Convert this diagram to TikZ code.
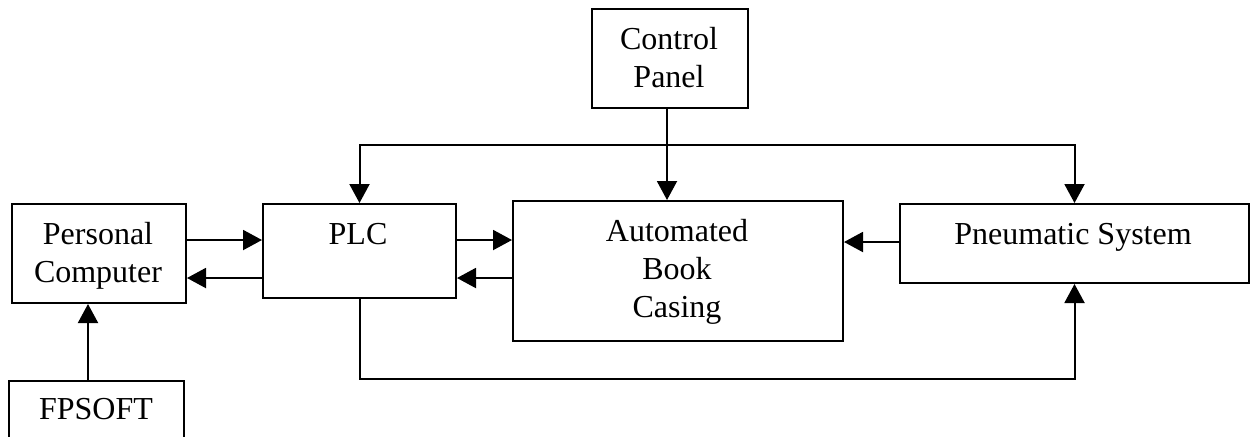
\documentclass[tikz,border=0pt]{standalone}
\usepackage{fontspec}
\setmainfont{Liberation Serif}
\usetikzlibrary{arrows.meta}
\begin{document}
\begin{tikzpicture}[x=0.5pt,y=-0.5pt,
  box/.style={draw,line width=1pt,rectangle,inner sep=0pt,anchor=north west},
  lbl/.style={font=\fontsize{16pt}{19pt}\selectfont,align=center,anchor=base,inner sep=0pt},
  flow/.style={line width=1pt,-{Triangle[length=9.5pt,width=10pt]}},
  bothway/.style={line width=1pt,{Triangle[length=9.5pt,width=10pt]}-{Triangle[length=9.5pt,width=10pt]}}]
\useasboundingbox (0,0) rectangle (1257,436);
% blocks
\node[box,minimum width=174pt*0.5,minimum height=99pt*0.5] (pc) at (11,203) {};
\node[box,minimum width=193pt*0.5,minimum height=94pt*0.5] (plc) at (262,203) {};
\node[box,minimum width=330pt*0.5,minimum height=140pt*0.5] (abc) at (512,200) {};
\node[box,minimum width=349pt*0.5,minimum height=79pt*0.5] (pn) at (899,203) {};
\node[box,minimum width=156pt*0.5,minimum height=99pt*0.5] (cp) at (591,8) {};
\node[box,minimum width=175pt*0.5,minimum height=80pt*0.5] (fp) at (8,380) {};
% block captions (anchored on the baseline of their last line)
\node[lbl] (pct) at (98,282) {Personal\\Computer};
\node[lbl] (plct) at (358,244) {PLC};
\node[lbl] (abct) at (677,317) {Automated\\Book\\Casing};
\node[lbl] (pnt) at (1073,244) {Pneumatic System};
\node[lbl] (cpt) at (669,87) {Control\\Panel};
\node[lbl] (fpt) at (96,419) {FPSOFT};
% helper coordinates
\coordinate (ya) at (0,240);
\coordinate (yb) at (0,278);
\coordinate (yc) at (0,242);
\coordinate (ax) at (88,0);
\coordinate (cx) at (667,0);
\coordinate (ytop) at (0,145);
\coordinate (ybot) at (0,379);
% connectors
\draw[flow] (pc.east |- ya) -- (plc.west |- ya);
\draw[flow] (plc.west |- yb) -- (pc.east |- yb);
\draw[flow] (plc.east |- ya) -- (abc.west |- ya);
\draw[flow] (abc.west |- yb) -- (plc.east |- yb);
\draw[flow] (pn.west |- yc) -- (abc.east |- yc);
\draw[flow] (fp.north -| ax) -- (pc.south -| ax);
\draw[flow] (cp.south -| cx) -- (abc.north -| cx);
\draw[bothway] (plc.north) -- (plc.north |- ytop) -- (pn.north |- ytop) -- (pn.north);
\draw[flow] (plc.south) -- (plc.south |- ybot) -- (pn.south |- ybot) -- (pn.south);
\end{tikzpicture}
\end{document}
